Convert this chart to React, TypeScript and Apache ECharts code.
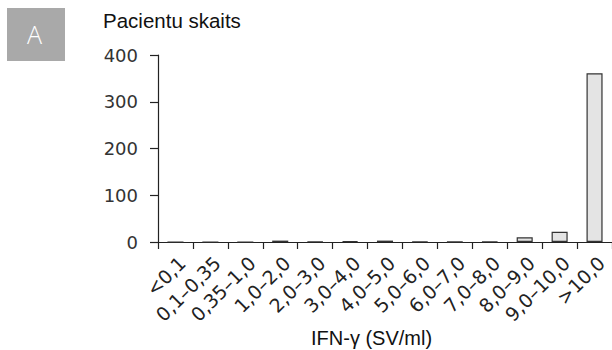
import React, { useEffect, useRef } from "react";
import * as echarts from "echarts";

const categories = [
  "<0,1", "0,1–0,35", "0,35–1,0", "1,0–2,0", "2,0–3,0", "3,0–4,0", "4,0–5,0",
  "5,0–6,0", "6,0–7,0", "7,0–8,0", "8,0–9,0", "9,0–10,0", ">10,0",
];
const patientCounts = [0, 0, 0, 3, 1, 2, 3, 1, 0.5, 1, 10, 22, 361];
const yTicks = { min: 0, max: 400, interval: 100 };
const yTitle = "Pacientu skaits";
const xTitle = "IFN-γ (SV/ml)";
const panelLetter = "A";

export default function App() {
  const ref = useRef<HTMLDivElement>(null);
  useEffect(() => {
    if (!ref.current) return;
    const chart = echarts.init(ref.current, undefined, { renderer: "svg" });
    chart.setOption({
      animation: false,
      backgroundColor: "#ffffff",
      grid: { left: 158, right: 0, top: 55, bottom: 108, containLabel: false },
      graphic: [
        { type: "rect", left: 7, top: 8, shape: { width: 58, height: 53 }, style: { fill: "#a9a9a9" } },
        {
          type: "text", left: 27, top: 21,
          style: { text: panelLetter, fill: "#ffffff", font: "300 25px 'Open Sans', sans-serif" },
        },
        {
          type: "text", left: 103, top: 10,
          style: { text: yTitle, fill: "#111", font: "20.5px 'Liberation Sans', Arial, sans-serif" },
        },
        {
          type: "text", left: 311, top: 328,
          style: { text: xTitle, fill: "#111", font: "20px 'Liberation Sans', Arial, sans-serif" },
        },
      ],
      xAxis: {
        type: "category",
        data: categories,
        boundaryGap: true,
        axisLine: { lineStyle: { color: "#222", width: 1.2 } },
        axisTick: { show: true, alignWithLabel: false, length: 7, lineStyle: { color: "#222", width: 1.2 } },
        axisLabel: {
          interval: 0, rotate: 45, margin: 11, color: "#222",
          verticalAlign: "top", lineHeight: 19,
          fontFamily: "'DejaVu Sans', sans-serif", fontSize: 19,
        },
      },
      yAxis: {
        type: "value",
        min: yTicks.min, max: yTicks.max, interval: yTicks.interval,
        splitLine: { show: false },
        axisLine: { show: true, lineStyle: { color: "#222", width: 1.2 } },
        axisTick: { show: true, length: 8, lineStyle: { color: "#222", width: 1.2 } },
        axisLabel: {
          margin: 20, color: "#333",
          fontFamily: "'DejaVu Sans', sans-serif", fontSize: 18,
        },
      },
      series: [
        {
          type: "bar",
          data: patientCounts,
          barWidth: "46%",
          itemStyle: { color: "#e4e4e4", borderColor: "#333", borderWidth: 1.2 },
        },
      ],
    });
    return () => chart.dispose();
  }, []);
  return <div ref={ref} style={{ position: "absolute", left: 0, top: 0, width: 612, height: 350 }} />;
}
